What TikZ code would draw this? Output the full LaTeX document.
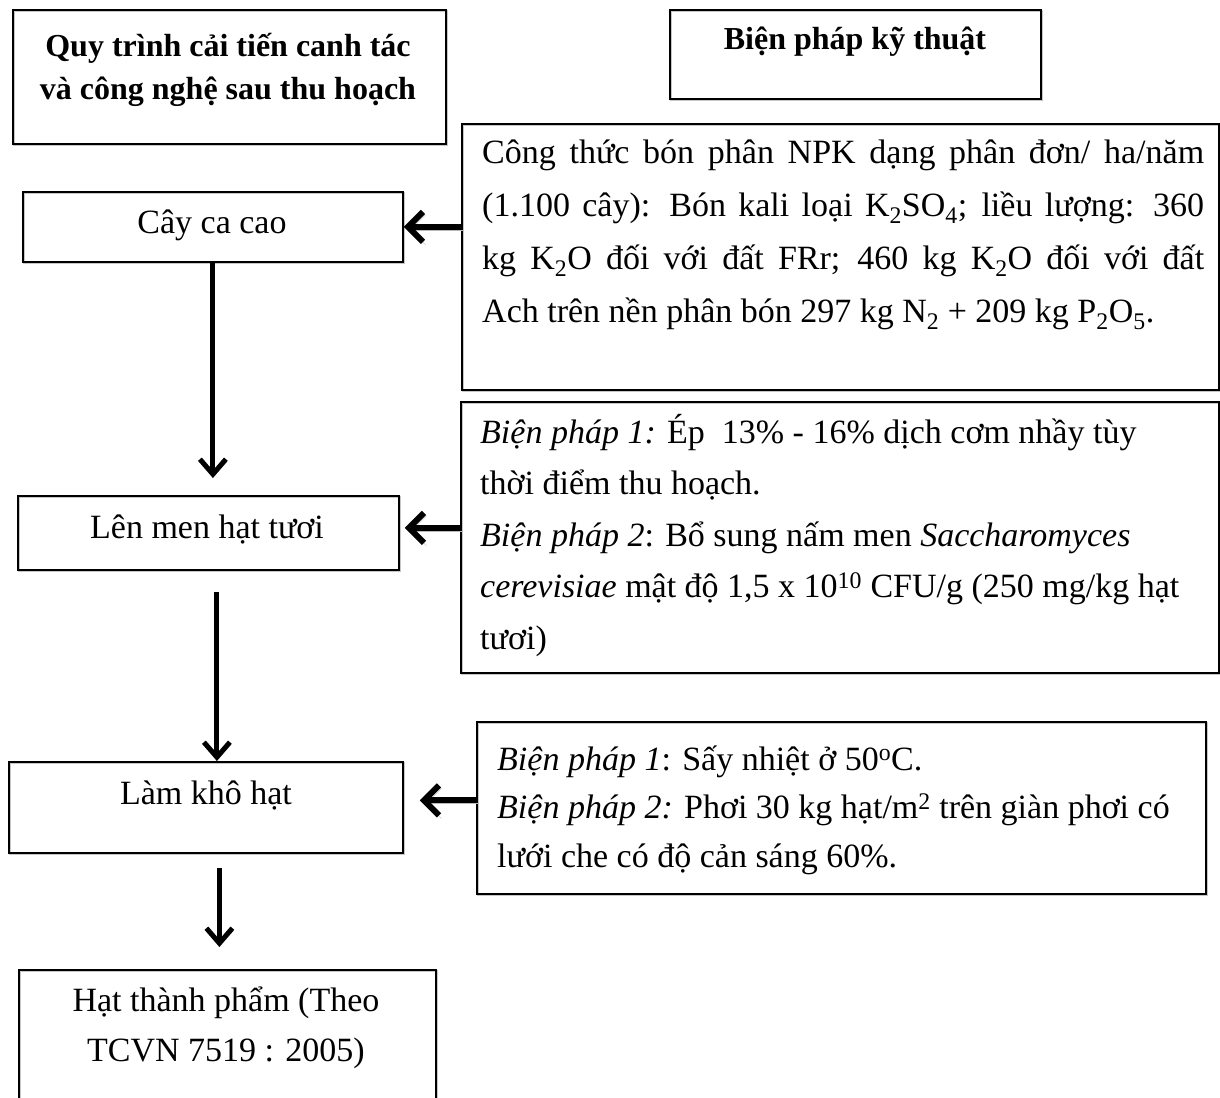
\documentclass[tikz,border=0pt]{standalone}
\usepackage{fontspec}
\setmainfont{Liberation Serif}
\usetikzlibrary{arrows.meta,calc}
\newcommand\myfont[1]{\fontsize{34}{#1}\selectfont}
\tolerance=9999
\tikzset{
  box/.style={draw=black, line width=1.8pt, anchor=north west, inner sep=0pt,
    preaction={draw=gray!45, line width=1.8pt, transform canvas={shift={(0.9pt,-0.9pt)}}}},
  body/.style={inner sep=0pt, font=\myfont{52}},
  ttl/.style={inner sep=0pt, font=\bfseries\fontsize{32}{43}\selectfont},
  harr/.style={line width=6pt, -{Straight Barb[length=15pt,width=30pt]},
    preaction={draw=gray!55, transform canvas={shift={(2.5pt,-3pt)}}}},
  varr/.style={line width=5pt, -{Straight Barb[length=15pt,width=26pt]},
    preaction={draw=gray!55, transform canvas={shift={(1pt,-2pt)}}}}
}
\begin{document}
\begin{tikzpicture}[x=1pt,y=-1pt]
\useasboundingbox (0,0) rectangle (1220,1097);
\fill[white] (0,0) rectangle (1220,1097);
\clip (0,0) rectangle (1220,1097);

% boxes
\node[box, minimum width=433pt, minimum height=134pt] (t1) at (12,9) {};
\node[box, minimum width=371pt, minimum height=89pt] (t2) at (669,9) {};
\node[box, minimum width=380pt, minimum height=70pt] (cay) at (22,191) {};
\node[box, minimum width=381pt, minimum height=74pt] (lm) at (17,495) {};
\node[box, minimum width=394pt, minimum height=91pt] (lk) at (8,761) {};
\node[box, minimum width=417pt, minimum height=160pt] (hat) at (18,969) {};
\node[box, minimum width=757pt, minimum height=266pt] (r1) at (461,123) {};
\node[box, minimum width=758pt, minimum height=271pt] (r2) at (460,401) {};
\node[box, minimum width=729pt, minimum height=172pt] (r3) at (476,721) {};

% texts
\node[ttl, anchor=base, text width=430pt, align=flush center] (t1txt) at (228,57)
  {Quy trình cải tiến canh tác\\ và công nghệ sau thu hoạch};
\node[ttl, anchor=base] (t2txt) at (855,50) {Biện pháp kỹ thuật};
\node[body, anchor=base] (caytxt) at (212,233) {Cây ca cao};
\node[body, anchor=base] (lmtxt) at (207,538) {Lên men hạt tươi};
\node[body, anchor=base] (lktxt) at (206,804) {Làm khô hạt};
\node[body, font=\myfont{50}, anchor=base, text width=410pt, align=flush center] (hattxt) at (226,1011)
  {Hạt thành phẩm (Theo\\ TCVN 7519 : 2005)};
\node[body, font=\myfont{53}, anchor=base west, text width=722pt, align=justify] (r1txt) at (482,163)
  {Công thức bón phân NPK dạng phân đơn/ ha/năm\linebreak
   (1.100 cây): Bón kali loại K\textsubscript{2}SO\textsubscript{4}; liều lượng: 360\linebreak
   kg K\textsubscript{2}O đối với đất FRr; 460 kg K\textsubscript{2}O đối với đất\linebreak
   Ach trên nền phân bón 297 kg N\textsubscript{2} + 209 kg P\textsubscript{2}O\textsubscript{5}.};
\node[body, font=\myfont{51.5}, anchor=base west, text width=736pt, align=flush left] (r2txt) at (480,443)
  {\textit{Biện pháp 1:} Ép\ \ 13\% - 16\% dịch cơm nhầy tùy\\
   thời điểm thu hoạch.\\
   \textit{Biện pháp 2}: Bổ sung nấm men \textit{Saccharomyces}\\
   \textit{cerevisiae} mật độ 1,5 x 10\textsuperscript{10} CFU/g (250 mg/kg hạt\\
   tươi)};
\node[body, font=\myfont{48.5}, anchor=base west, text width=705pt, align=flush left] (r3txt) at (497,770)
  {\textit{Biện pháp 1}: Sấy nhiệt ở 50\textsuperscript{o}C.\\
   \textit{Biện pháp 2:} Phơi 30 kg hạt/m\textsuperscript{2} trên giàn phơi có\\
   lưới che có độ cản sáng 60\%.};

% connectors
\draw[harr] (cay.east -| r1.west) -- (cay.east);
\draw[harr] ([yshift=5pt]lm.east -| r2.west) -- ([xshift=5pt,yshift=5pt]lm.east);
\draw[harr] ([yshift=7pt]lk.east -| r3.west) -- ([xshift=16pt,yshift=7pt]lk.east);
\draw[varr, shorten >=17pt] (cay.south) -- (cay.south |- lm.north);
\draw[varr] ([xshift=8.5pt,yshift=-21pt]lm.south) -- ([xshift=8.5pt]lm.south |- lk.north);
\draw[varr, shorten >=22pt] ([xshift=13.5pt,yshift=-14pt]lk.south) -- ([xshift=13.5pt]lk.south |- hat.north);
\end{tikzpicture}
\end{document}
